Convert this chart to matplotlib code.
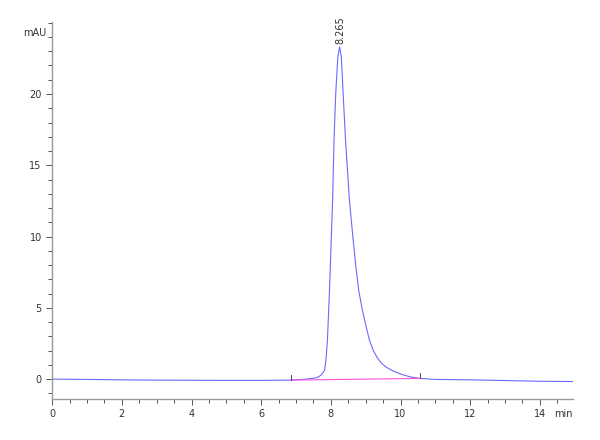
import matplotlib.pyplot as plt
from matplotlib.ticker import MultipleLocator, FixedLocator

# chromatogram trace (time in min, signal in mAU)
time = [0.0, 1.0, 2.0, 3.0, 4.0, 5.0, 6.0, 6.85, 7.3, 7.6, 7.70, 7.76, 7.82, 7.86, 7.90,
        7.96, 8.01, 8.05, 8.09, 8.14, 8.20, 8.25, 8.30, 8.35, 8.42, 8.53, 8.64,
        8.72, 8.80, 8.90, 8.99, 9.11, 9.22, 9.33, 9.45, 9.60, 9.80, 10.05, 10.29, 10.55,
        11.0, 12.0, 13.0, 14.0, 15.0]
signal = [0.0, -0.02, -0.05, -0.07, -0.08, -0.09, -0.09, -0.07, 0.0, 0.1, 0.25, 0.4, 0.63, 1.4, 2.7,
          6.2, 9.75, 12.6, 16.8, 20.1, 22.6, 23.3, 22.6, 20.1, 16.8, 12.6, 9.75,
          7.8, 6.2, 4.9, 3.9, 2.7, 2.0, 1.5, 1.12, 0.82, 0.55, 0.32, 0.15, 0.05,
          -0.02, -0.05, -0.1, -0.15, -0.17]

peak_time = 8.265
peak_label = "8.265"
y_ticks = [0, 5, 10, 15, 20]

# integration baseline between the two markers
base_t = [6.85, 10.55]
base_v = [-0.07, 0.05]

fig = plt.figure(figsize=(6, 4.4), dpi=100)
ax = fig.add_axes([0.087, 0.093, 0.868, 0.857])

ax.plot(time, signal, color='#6a6aff', lw=0.8)
ax.plot(base_t, base_v, color='#ff55dd', lw=0.8)
for t, v in zip(base_t, base_v):
    ax.plot([t, t], [v, v + 0.35], color='#333333', lw=0.6)

ax.text(peak_time, 23.5, peak_label, rotation=90, ha='center', va='bottom',
        fontsize=7, color='#333333')

ax.set_xlim(0, 14.95)
ax.set_ylim(-1.4, 25.05)

ax.xaxis.set_major_locator(MultipleLocator(2))
ax.xaxis.set_minor_locator(MultipleLocator(0.5))
ax.yaxis.set_major_locator(FixedLocator(y_ticks))
ax.yaxis.set_minor_locator(MultipleLocator(1))

for s in ['top', 'right']:
    ax.spines[s].set_visible(False)
for s in ['left', 'bottom']:
    ax.spines[s].set_color('#999999')
    ax.spines[s].set_linewidth(1.0)

ax.tick_params(which='both', direction='out', color='#555555', labelsize=7,
               labelcolor='#333333', width=0.7)
ax.tick_params(which='major', length=4)
ax.tick_params(which='minor', length=3)

ax.text(-0.012, 0.985, 'mAU', transform=ax.transAxes, ha='right', va='top',
        fontsize=7, color='#333333')
ax.text(14.95, -0.025, 'min', transform=ax.get_xaxis_transform(), ha='right',
        va='top', fontsize=7, color='#333333')

fig.savefig('out.png', dpi=100)
